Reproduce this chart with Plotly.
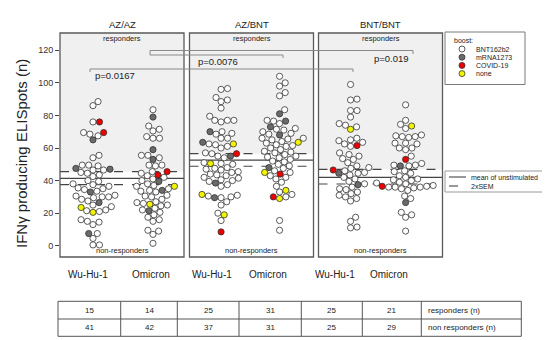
import numpy as np
import plotly.graph_objects as go

# ---------------- data ----------------
panel_titles = ["AZ/AZ", "AZ/BNT", "BNT/BNT"]
variant_labels = ["Wu-Hu-1", "Omicron", "Wu-Hu-1", "Omicron", "Wu-Hu-1", "Omicron"]
boost_names = ["BNT162b2", "mRNA1273", "COVID-19", "none"]
boost_colors = ["#ffffff", "#6a6a6a", "#ee0000", "#f4f400"]

# AZ/AZ Wu-Hu-1
azaz_wu_bnt = [88.5, 86, 76, 69.5, 68.5, 67.5, 55.5, 54, 49, 49.5, 49.5, 46.5, 46.5, 45, 44.5, 43.5,
               42.5, 40, 39.5, 38, 37.5, 36.5, 35.5, 35, 34.5, 33.5, 31, 30.5, 30, 30, 29.5, 28.5,
               27.5, 25, 24, 22, 21.5, 21, 16, 15, 14.5, 13, 7.5, 4.5, 0.5, 0.5]
azaz_wu_mrna = [65, 47.5, 47, 33, 26.5, 7.5]
azaz_wu_covid = [76, 69.5]
azaz_wu_none = [20.5, 23.5]
# AZ/AZ Omicron
azaz_om_bnt = [83.5, 73.5, 71.5, 70.5, 67, 66, 66, 55.5, 54, 55.5, 49.5, 49, 49.5, 45.5, 44.5, 43,
               42, 41, 40, 38, 37, 36.5, 35, 34, 33.5, 33, 31, 30.5, 30, 28.5, 27, 26.5, 26, 25,
               24.5, 23, 22, 20.5, 19, 17.5, 16, 15, 9, 9.5, 7, 1.5]
azaz_om_mrna = [79, 59, 53, 39.5, 34, 21.5]
azaz_om_covid = [45.5, 43.5]
azaz_om_none = [36.5, 25.5]
# AZ/BNT Wu-Hu-1
azbnt_wu_bnt = [96.5, 96, 91, 89.5, 88.5, 84.5, 79.5, 77, 77, 76, 77, 70, 69, 68.5, 66, 66, 62.5, 62,
                61, 60, 57, 56.5, 55, 54, 51, 50.5, 50, 48, 47.5, 47, 46.5, 45.5, 45, 44, 43.5, 43,
                42, 41.5, 40.5, 40, 39.5, 37.5, 36.5, 31, 30, 29.5, 30.5, 27, 25, 20, 15.5]
azbnt_wu_mrna = [70, 63.5, 55, 38.5, 29.5]
azbnt_wu_covid = [56.5, 8.5]
azbnt_wu_none = [62.5, 50.5, 31.5, 19]
# AZ/BNT Omicron
azbnt_om_bnt = [104, 100, 98, 94, 92, 83.5, 77, 76.5, 75, 72, 71, 71.5, 70, 69, 68.5, 66, 66, 65.5,
                65, 64, 63, 62, 61.5, 61, 60, 59, 58, 57.5, 57, 56, 55, 54.5, 54, 53, 52, 51.5, 50,
                49, 47.5, 46, 45, 43, 42, 41, 39, 36.5, 33, 31.5, 30, 15.5, 9.5]
azbnt_om_mrna = [81, 76.5, 73, 68, 48]
azbnt_om_covid = [44, 30]
azbnt_om_none = [63.5, 45, 34, 29]
# BNT/BNT Wu-Hu-1
bnt_wu_bnt = [99, 90, 89.5, 83, 83, 79, 75, 74, 73, 66, 65, 64.5, 63.5, 62.5, 61, 57, 56, 55, 53.5,
              53, 51, 49, 48, 47.5, 46, 45, 44.5, 43.5, 42, 41, 39.5, 38, 36, 35, 34.5, 33, 32, 31,
              30, 29, 27.5, 17.5, 15, 11.5, 11]
bnt_wu_mrna = [44.5, 37.5]
bnt_wu_covid = [61.5, 46.5]
bnt_wu_none = [71.5]
# BNT/BNT Omicron
bnt_om_bnt = [86.5, 77, 74.5, 72, 68, 67.5, 67, 66.5, 67, 63, 62.5, 63, 59, 60, 60, 55, 49.5, 49.5,
              50.5, 49, 45.5, 44.5, 46, 43, 42, 41, 40, 39, 38.5, 40.5, 38, 37, 36, 36.5, 36, 36,
              35, 35.5, 34, 30.5, 29, 20.5, 19, 17.5, 9]
bnt_om_mrna = [49, 26.5]
bnt_om_covid = [53, 36.5]
bnt_om_none = [73.5]

mean_unstim = [41.4, 52.6, 42.0]
sem2_upper = [45.5, 56.5, 46.9]
sem2_lower = [37.5, 48.8, 37.9]

responders_n = [15, 14, 25, 31, 25, 21]
nonresponders_n = [41, 42, 37, 31, 25, 29]
p_labels = ["p=0.0167", "p=0.0076", "p=0.019"]
y_ticks = [0, 20, 40, 60, 80, 100, 120]

groups = [
    (0, 1, [azaz_wu_bnt, azaz_wu_mrna, azaz_wu_covid, azaz_wu_none]),
    (0, 2, [azaz_om_bnt, azaz_om_mrna, azaz_om_covid, azaz_om_none]),
    (1, 1, [azbnt_wu_bnt, azbnt_wu_mrna, azbnt_wu_covid, azbnt_wu_none]),
    (1, 2, [azbnt_om_bnt, azbnt_om_mrna, azbnt_om_covid, azbnt_om_none]),
    (2, 1, [bnt_wu_bnt, bnt_wu_mrna, bnt_wu_covid, bnt_wu_none]),
    (2, 2, [bnt_om_bnt, bnt_om_mrna, bnt_om_covid, bnt_om_none]),
]

# ---------------- layout geometry (pixels) ----------------
W, H = 550, 340
FONT = "Liberation Sans, Arial, sans-serif"
TXT = "#222222"


def px(x):
    return x / W


def py(y):
    return 1 - y / H


panel_left = [52, 181.5, 310.5]
panel_w = 124
panel_top, panel_bot = 25, 249
x_ranges = [[0.45, 2.517], [0.46, 2.58], [0.418, 2.67]]
Y_RANGE = [-6.9, 130.6]
ppy = (panel_bot - panel_top) / (Y_RANGE[1] - Y_RANGE[0])


def swarm(values, ppx, d=6.5):
    vals = np.asarray(values, dtype=float)
    order = np.argsort(vals, kind="stable")
    placed = []
    offs = np.zeros(len(vals))
    for i in order:
        y = vals[i] * ppy
        cands = [0.0]
        for xp, yp in placed:
            dy = y - yp
            if abs(dy) < d:
                dx = np.sqrt(d * d - dy * dy)
                cands += [xp + dx, xp - dx]
        cands.sort(key=abs)
        chosen = 0.0
        for c in cands:
            if all((c - xp) ** 2 + (y - yp) ** 2 >= d * d - 1e-6 for xp, yp in placed):
                chosen = c
                break
        placed.append((chosen, y))
        offs[i] = chosen / ppx
    return offs


fig = go.Figure()

for p_idx, cat, lists in groups:
    vals, cols = [], []
    for b, lst in enumerate(lists):
        vals += list(lst)
        cols += [boost_colors[b]] * len(lst)
    ppx = panel_w / (x_ranges[p_idx][1] - x_ranges[p_idx][0])
    offs = swarm(vals, ppx)
    axn = "" if p_idx == 0 else str(p_idx + 1)
    fig.add_trace(go.Scatter(
        x=cat + offs, y=vals, mode="markers",
        marker=dict(size=6.2, color=cols, line=dict(color="#333333", width=0.8)),
        xaxis="x" + axn, yaxis="y" + axn, showlegend=False, hoverinfo="y"))

shapes = []
annotations = []


def note(x, y, text, size, xanchor="center", angle=0):
    annotations.append(dict(xref="paper", yref="paper", x=px(x), y=py(y), text=text,
                            showarrow=False, xanchor=xanchor, yanchor="middle", textangle=angle,
                            font=dict(size=size, color=TXT, family=FONT)))


for i in range(3):
    axn = "" if i == 0 else str(i + 1)
    l = panel_left[i]
    xa = dict(domain=[px(l), px(l + panel_w)], range=x_ranges[i], showgrid=False,
              zeroline=False, showticklabels=False, ticks="", fixedrange=True,
              anchor="y" + axn)
    ya = dict(domain=[py(panel_bot), py(panel_top)], range=Y_RANGE, showgrid=False,
              zeroline=False, fixedrange=True, tickvals=y_ticks,
              showticklabels=(i == 0), ticks="outside" if i == 0 else "",
              ticklen=4, tickcolor="#444", tickfont=dict(size=9, color="#333", family=FONT),
              anchor="x" + axn)
    fig.update_layout(**{"xaxis" + axn: xa, "yaxis" + axn: ya})
    xr, yr = "x" + axn + " domain", "y" + axn
    # responder shading
    shapes.append(dict(type="rect", xref=xr, yref=yr, x0=0, x1=1, y0=sem2_upper[i],
                       y1=Y_RANGE[1], fillcolor="#f0f0f0", line=dict(width=0), layer="below"))
    shapes.append(dict(type="line", xref=xr, yref=yr, x0=0, x1=1, y0=mean_unstim[i],
                       y1=mean_unstim[i], line=dict(color="#444", width=1.2), layer="below"))
    for v in (sem2_upper[i], sem2_lower[i]):
        shapes.append(dict(type="line", xref=xr, yref=yr, x0=0, x1=1, y0=v, y1=v,
                           line=dict(color="#444", width=1.2, dash="dash"), layer="below"))
    # panel frame
    shapes.append(dict(type="rect", xref="paper", yref="paper", x0=px(l), x1=px(l + panel_w),
                       y0=py(panel_bot), y1=py(panel_top), line=dict(color="#5a5a5a", width=1.3)))
    cx = l + panel_w / 2
    note(cx, 16, panel_titles[i], 9.5)
    note(cx, 30, "responders", 7.5)
    note(cx, 242.5, "non-responders", 7.5)

# category labels below panels
label_x = [80, 143, 204, 260, 327, 381]
for lx, lab in zip(label_x, variant_labels):
    note(lx, 266, lab, 10)

# y-axis title
note(13, 146, "IFNγ producing ELISpots (n)", 15, angle=-90)

# significance brackets
BR = dict(color="#8a8a8a", width=1)


def seg(x0, y0, x1, y1):
    shapes.append(dict(type="line", xref="paper", yref="paper", x0=px(x0), y0=py(y0),
                       x1=px(x1), y1=py(y1), line=BR))


seg(82, 61, 345, 61); seg(82, 61, 82, 64); seg(345, 61, 345, 64)
seg(142, 42.5, 405, 42.5); seg(405, 42.5, 405, 46); seg(142, 42.5, 142, 47)
seg(142, 47, 275, 47); seg(275, 47, 275, 50)
for (tx, ty), lab in zip([(107, 68), (210, 53.5), (383, 50)], p_labels):
    note(tx, ty, lab, 9.5)

# boost legend
shapes.append(dict(type="rect", xref="paper", yref="paper", x0=px(437), x1=px(517), y0=py(76.5),
                   y1=py(24), fillcolor="white", line=dict(color="#7a7a7a", width=1)))
note(444, 32.5, "boost:", 7)
annotations[-1]["xanchor"] = "left"
for k, (nm, col) in enumerate(zip(boost_names, boost_colors)):
    yy = 41 + 8.2 * k
    shapes.append(dict(type="circle", xref="paper", yref="paper", x0=px(451), x1=px(457),
                       y0=py(yy + 3), y1=py(yy - 3), fillcolor=col,
                       line=dict(color="#333", width=0.8)))
    note(466, yy, nm, 7, xanchor="left")

# line legend
shapes.append(dict(type="rect", xref="paper", yref="paper", x0=px(437), x1=px(541), y0=py(184),
                   y1=py(163), fillcolor="white", line=dict(color="#9a9a9a", width=1)))
shapes.append(dict(type="line", xref="paper", yref="paper", x0=px(441), x1=px(458), y0=py(169),
                   y1=py(169), line=dict(color="#333", width=1)))
shapes.append(dict(type="line", xref="paper", yref="paper", x0=px(441), x1=px(458), y0=py(178),
                   y1=py(178), line=dict(color="#333", width=1, dash="dash")))
note(461, 169, "mean of unstimulated", 7, xanchor="left")
note(461, 178, "2xSEM", 7, xanchor="left")

# table
col_edges = [50, 112.7, 169.3, 231, 293.3, 354.3, 413.3, 513.3]
t_top, t_mid, t_bot = 293.3, 311, 328.3
TL = dict(color="#555", width=1)
shapes.append(dict(type="rect", xref="paper", yref="paper", x0=px(col_edges[0]),
                   x1=px(col_edges[-1]), y0=py(t_bot), y1=py(t_top), line=TL))
shapes.append(dict(type="line", xref="paper", yref="paper", x0=px(col_edges[0]),
                   x1=px(col_edges[-1]), y0=py(t_mid), y1=py(t_mid), line=TL))
for ce in col_edges[1:-1]:
    shapes.append(dict(type="line", xref="paper", yref="paper", x0=px(ce), x1=px(ce),
                       y0=py(t_bot), y1=py(t_top), line=TL))
for j in range(6):
    cxm = (col_edges[j] + col_edges[j + 1]) / 2
    note(cxm, (t_top + t_mid) / 2, str(responders_n[j]), 8)
    note(cxm, (t_mid + t_bot) / 2, str(nonresponders_n[j]), 8)
note(418, (t_top + t_mid) / 2, "responders (n)", 8, xanchor="left")
note(418, (t_mid + t_bot) / 2, "non responders (n)", 8, xanchor="left")

fig.update_layout(width=W, height=H, autosize=False, margin=dict(l=0, r=0, t=0, b=0),
                  paper_bgcolor="white", plot_bgcolor="rgba(0,0,0,0)", showlegend=False,
                  shapes=shapes, annotations=annotations, font=dict(family=FONT, color=TXT))

fig.write_html("out.html")
